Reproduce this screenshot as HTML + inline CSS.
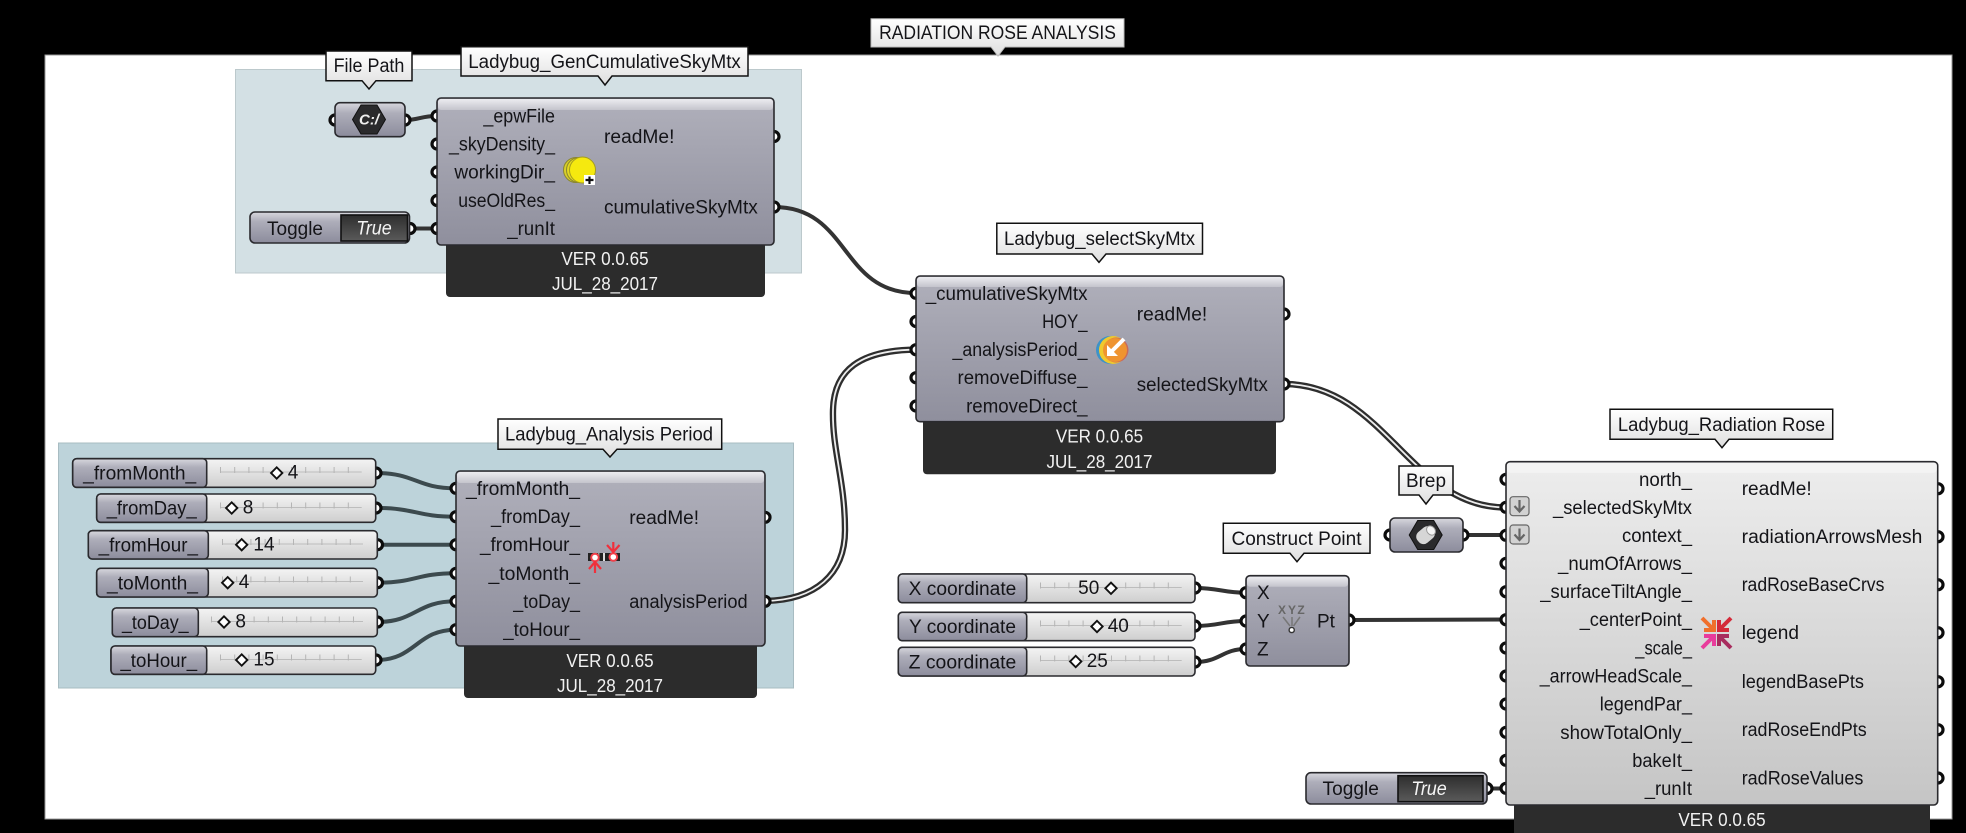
<!DOCTYPE html>
<html><head><meta charset="utf-8"><style>
html,body{margin:0;padding:0;background:#000;width:1966px;height:833px;overflow:hidden}
svg{display:block}
text{font-family:"Liberation Sans",sans-serif;font-size:19px;fill:#141418;dominant-baseline:central;transform:translateY(1px)}
.r{text-anchor:end}.m{text-anchor:middle}
.w{fill:#f2f2f2;text-anchor:middle;font-size:18px}
.i{font-style:italic;fill:#f4f4f4;text-anchor:middle}
.b{stroke:#2a2a2e;stroke-width:1.6}
.f{fill:#2c2c2c}
.wire{fill:none;stroke:#333;stroke-width:4}
.sw{fill:none;stroke:#3c4a4e;stroke-width:4}
.db{fill:none;stroke:#2e2e2e;stroke-width:6.4}
.dw{fill:none;stroke:#eee;stroke-width:1.8}
.lb{fill:url(#lab);stroke:#111;stroke-width:1.5}
.rail{stroke:#bdbdbd;stroke-width:1}
.tick{stroke:#b5b5b5;stroke-width:6;stroke-dasharray:1 13.2}
.dia{fill:#fff;stroke:#111;stroke-width:1.9}
#p{fill:#fff;stroke:#0c0c0c;stroke-width:3.2}
</style></head><body>
<svg width="1966" height="833" viewBox="0 0 1966 833" xmlns="http://www.w3.org/2000/svg">
<defs>
<linearGradient id="g" x1="0" y1="0" x2="0" y2="1"><stop offset="0" stop-color="#b0b0bb"/><stop offset="1" stop-color="#8f8f9d"/></linearGradient>
<linearGradient id="h" x1="0" y1="0" x2="0" y2="1"><stop offset="0" stop-color="#ececf0"/><stop offset="1" stop-color="#c4c4cc"/></linearGradient>
<linearGradient id="n" x1="0" y1="0" x2="0" y2="1"><stop offset="0" stop-color="#d8d8de"/><stop offset=".3" stop-color="#aeaeba"/><stop offset="1" stop-color="#8c8c9c"/></linearGradient>
<linearGradient id="v" x1="0" y1="0" x2="0" y2="1"><stop offset="0" stop-color="#f4f4f4"/><stop offset="1" stop-color="#cecece"/></linearGradient>
<linearGradient id="l" x1="0" y1="0" x2="0" y2="1"><stop offset="0" stop-color="#ededed"/><stop offset="1" stop-color="#c5c5c5"/></linearGradient>
<linearGradient id="lab" x1="0" y1="0" x2="0" y2="1"><stop offset="0" stop-color="#fff"/><stop offset="1" stop-color="#dedede"/></linearGradient>
<linearGradient id="t" x1="0" y1="0" x2="0" y2="1"><stop offset="0" stop-color="#2e2e2e"/><stop offset="1" stop-color="#5a5a5a"/></linearGradient>
<circle id="p" r="5"/>
</defs>
<rect width="1966" height="833" fill="#000"/>
<rect x="45" y="55" width="1907" height="764" fill="#fff" stroke="#999" stroke-width="1"/>
<!-- groups -->
<rect x="235.500" y="69.500" width="566" height="203.500" fill="#d3e0e4" stroke="#bcc9cc"/>
<rect x="58.500" y="443" width="735" height="245" fill="#bdd3da" stroke="#a8bcc2"/>

<!-- wires -->
<g class="wire">
<path d="M405 120 C420 120 420 116 437 116"/>
<path d="M410 228.500 H437"/>
<path d="M774 207 C850 207 840 293 916 293"/>
<path d="M1463 535 H1506"/>
<path d="M1349 620 L1506 619.500"/>
<path d="M1487 788.500 H1506"/>
<path d="M1195 588 C1220 588 1222 592.700 1246 592.700"/>
<path d="M1195 626 C1220 626 1222 621 1246 621"/>
<path d="M1195 662 C1220 662 1222 649 1246 649"/>
</g>
<g class="sw">
<path d="M376 473 C416 473 416 488.300 456 488.300"/>
<path d="M376 508 C416 508 416 516.700 456 516.700"/>
<path d="M377 544.700 H456"/>
<path d="M377 582.700 C416 582.700 416 573.300 456 573.300"/>
<path d="M377 622 C416 622 416 601.300 456 601.300"/>
<path d="M376 660 C416 660 416 629.700 456 629.700"/>
</g>
<path class="db" d="M765 601 C815 600 845 575 845 530 C845 480 832 450 833 410 C834 370 860 350 916 349.700"/>
<path class="dw" d="M765 601 C815 600 845 575 845 530 C845 480 832 450 833 410 C834 370 860 350 916 349.700"/>
<path class="db" d="M1284 384 C1385 384 1410 508 1506 507.500"/>
<path class="dw" d="M1284 384 C1385 384 1410 508 1506 507.500"/>

<!-- ports -->
<g>
<use href="#p" x="335" y="120"/><use href="#p" x="405" y="120"/>
<use href="#p" x="410" y="228.500"/>
<use href="#p" x="437" y="116"/><use href="#p" x="437" y="144"/><use href="#p" x="437" y="172"/><use href="#p" x="437" y="200.500"/><use href="#p" x="437" y="228.500"/>
<use href="#p" x="774" y="136.500"/><use href="#p" x="774" y="207"/>
<use href="#p" x="916" y="293.300"/><use href="#p" x="916" y="321.500"/><use href="#p" x="916" y="349.700"/><use href="#p" x="916" y="377.700"/><use href="#p" x="916" y="406"/>
<use href="#p" x="1284" y="314"/><use href="#p" x="1284" y="384"/>
<use href="#p" x="376" y="473"/><use href="#p" x="376" y="508"/><use href="#p" x="377.500" y="544.700"/><use href="#p" x="377.500" y="582.700"/><use href="#p" x="377.500" y="622"/><use href="#p" x="376" y="660"/>
<use href="#p" x="456" y="488.300"/><use href="#p" x="456" y="516.700"/><use href="#p" x="456" y="544.700"/><use href="#p" x="456" y="573.300"/><use href="#p" x="456" y="601.300"/><use href="#p" x="456" y="629.700"/>
<use href="#p" x="765" y="517.300"/><use href="#p" x="765" y="601.300"/>
<use href="#p" x="1195" y="588"/><use href="#p" x="1195" y="626"/><use href="#p" x="1195" y="662"/>
<use href="#p" x="1246" y="592.700"/><use href="#p" x="1246" y="621"/><use href="#p" x="1246" y="649"/><use href="#p" x="1349" y="620"/>
<use href="#p" x="1390" y="535"/><use href="#p" x="1463" y="535"/>
<use href="#p" x="1487" y="788.500"/>
<use href="#p" x="1506" y="479.300"/><use href="#p" x="1506" y="507.300"/><use href="#p" x="1506" y="535.300"/><use href="#p" x="1506" y="563.300"/><use href="#p" x="1506" y="591.700"/><use href="#p" x="1506" y="619.700"/><use href="#p" x="1506" y="648"/><use href="#p" x="1506" y="676"/><use href="#p" x="1506" y="704"/><use href="#p" x="1506" y="732.300"/><use href="#p" x="1506" y="760.300"/><use href="#p" x="1506" y="788.300"/>
<use href="#p" x="1938" y="488.700"/><use href="#p" x="1938" y="536.700"/><use href="#p" x="1938" y="584.700"/><use href="#p" x="1938" y="632.700"/><use href="#p" x="1938" y="681.700"/><use href="#p" x="1938" y="729.700"/><use href="#p" x="1938" y="778"/>
</g>

<!-- Comp 1 -->
<rect class="f" x="446" y="240" width="319" height="57" rx="4"/>
<rect class="b" x="437" y="98" width="337" height="147" rx="4" fill="url(#g)"/>
<rect x="438" y="99" width="335" height="11" rx="3" fill="url(#h)"/>
<text class="r" x="555" y="116" textLength="71.6" lengthAdjust="spacingAndGlyphs">_epwFile</text>
<text class="r" x="555" y="144" textLength="106" lengthAdjust="spacingAndGlyphs">_skyDensity_</text>
<text class="r" x="555" y="172" textLength="100.6" lengthAdjust="spacingAndGlyphs">workingDir_</text>
<text class="r" x="555" y="200.500" textLength="96.8" lengthAdjust="spacingAndGlyphs">useOldRes_</text>
<text class="r" x="555" y="228.500" textLength="47.8" lengthAdjust="spacingAndGlyphs">_runIt</text>
<text x="604" y="136.500" textLength="70.4" lengthAdjust="spacingAndGlyphs">readMe!</text>
<text x="604" y="207" textLength="153.8" lengthAdjust="spacingAndGlyphs">cumulativeSkyMtx</text>
<text class="w" x="605" y="258" textLength="87.3" lengthAdjust="spacingAndGlyphs">VER 0.0.65</text>
<text class="w" x="605" y="283" textLength="106" lengthAdjust="spacingAndGlyphs">JUL_28_2017</text>
<circle cx="576" cy="170" r="12.500" fill="#d8cf2a" stroke="#8a8630"/>
<circle cx="579" cy="170" r="12.500" fill="#e2d820" stroke="#8a8630"/>
<circle cx="582.500" cy="170" r="13" fill="#f5e90f" stroke="#a39c20"/>
<rect x="584" y="175" width="11" height="10" fill="#fff"/>
<path d="M585.500 180H593.500M589.500 176.500V184" stroke="#111" stroke-width="2.200"/>

<!-- File path param -->
<rect class="b" x="335" y="102.700" width="70" height="34" rx="5" fill="url(#n)"/>
<polygon points="352.500,119.500 361,105 377,105 385.500,119.500 377,134 361,134" fill="#2a2a2c" stroke="#111"/>
<text class="m" x="369" y="119" style="fill:#eee;font-weight:bold;font-style:italic;font-size:15px">C:/</text>

<!-- Toggle 1 -->
<rect class="b" x="250" y="212" width="159.500" height="31" rx="5" fill="url(#n)"/>
<rect x="341" y="215" width="66.500" height="26" fill="url(#t)" stroke="#111" stroke-width="1.600"/>
<text class="m" x="295" y="228.500" textLength="56" lengthAdjust="spacingAndGlyphs">Toggle</text>
<text class="i" x="374" y="228" textLength="35.6" lengthAdjust="spacingAndGlyphs">True</text>

<!-- Comp 3 analysis period -->
<rect class="f" x="464" y="640" width="293" height="58" rx="4"/>
<rect class="b" x="456" y="471" width="309" height="175" rx="4" fill="url(#g)"/>
<rect x="457" y="472" width="307" height="11" rx="3" fill="url(#h)"/>
<text class="r" x="580" y="488.300" textLength="114" lengthAdjust="spacingAndGlyphs">_fromMonth_</text>
<text class="r" x="580" y="516.700" textLength="89" lengthAdjust="spacingAndGlyphs">_fromDay_</text>
<text class="r" x="580" y="544.700" textLength="100" lengthAdjust="spacingAndGlyphs">_fromHour_</text>
<text class="r" x="580" y="573.300" textLength="91.500" lengthAdjust="spacingAndGlyphs">_toMonth_</text>
<text class="r" x="580" y="601.300" textLength="66.700" lengthAdjust="spacingAndGlyphs">_toDay_</text>
<text class="r" x="580" y="629.700" textLength="76.700" lengthAdjust="spacingAndGlyphs">_toHour_</text>
<text x="629.300" y="517.300" textLength="69.700" lengthAdjust="spacingAndGlyphs">readMe!</text>
<text x="629.300" y="601.300" textLength="118.300" lengthAdjust="spacingAndGlyphs">analysisPeriod</text>
<text class="w" x="610" y="660" textLength="87.3" lengthAdjust="spacingAndGlyphs">VER 0.0.65</text>
<text class="w" x="610" y="685" textLength="106" lengthAdjust="spacingAndGlyphs">JUL_28_2017</text>
<rect x="588" y="553" width="32" height="8" fill="#222"/>
<rect x="603" y="553" width="2" height="8" fill="#ddd"/><rect x="598" y="553" width="1.500" height="8" fill="#999"/>
<circle cx="595" cy="557.500" r="3.800" fill="#fff" stroke="#f0404a" stroke-width="2"/>
<circle cx="613.300" cy="557" r="3.800" fill="#fff" stroke="#f0404a" stroke-width="2"/>
<path d="M595 573V563M589 569L595 562L601 569M613.300 542V551M607 545L613.300 552L619.500 545" fill="none" stroke="#f0303c" stroke-width="2.200"/>

<!-- sliders group 2 -->
<g>
<rect class="b" x="72.700" y="458.700" width="303" height="28.600" rx="4" fill="url(#v)"/>
<rect class="b" x="72.700" y="458.700" width="134" height="28.600" rx="4" fill="url(#n)"/>
<path class="rail" d="M220 472H361.700"/><path class="tick" d="M220 470H362"/>
<rect class="dia" x="272.700" y="469" width="8" height="8" transform="rotate(45 276.700 473)"/>
<text class="m" x="293" y="472">4</text>
<text class="m" x="139.700" y="473" textLength="113" lengthAdjust="spacingAndGlyphs">_fromMonth_</text>

<rect class="b" x="96.700" y="494" width="279" height="28.300" rx="4" fill="url(#v)"/>
<rect class="b" x="96.700" y="494" width="110" height="28.300" rx="4" fill="url(#n)"/>
<path class="rail" d="M220 507.500H361.700"/><path class="tick" d="M220 505.500H362"/>
<rect class="dia" x="227.700" y="504" width="8" height="8" transform="rotate(45 231.700 508)"/>
<text class="m" x="248" y="507">8</text>
<text class="m" x="151.700" y="508" textLength="90" lengthAdjust="spacingAndGlyphs">_fromDay_</text>

<rect class="b" x="88.300" y="530.700" width="289" height="28.300" rx="4" fill="url(#v)"/>
<rect class="b" x="88.300" y="530.700" width="120" height="28.300" rx="4" fill="url(#n)"/>
<path class="rail" d="M222 544H363"/><path class="tick" d="M222 542H363"/>
<rect class="dia" x="237.700" y="540.700" width="8" height="8" transform="rotate(45 241.700 544.700)"/>
<text class="m" x="264" y="544">14</text>
<text class="m" x="148.300" y="545" textLength="99.300" lengthAdjust="spacingAndGlyphs">_fromHour_</text>

<rect class="b" x="96.700" y="568.300" width="280.600" height="28.700" rx="4" fill="url(#v)"/>
<rect class="b" x="96.700" y="568.300" width="111.600" height="28.700" rx="4" fill="url(#n)"/>
<path class="rail" d="M222 581.500H363"/><path class="tick" d="M222 579.500H363"/>
<rect class="dia" x="223.700" y="578.700" width="8" height="8" transform="rotate(45 227.700 582.700)"/>
<text class="m" x="244" y="581.500">4</text>
<text class="m" x="152.500" y="583" textLength="91" lengthAdjust="spacingAndGlyphs">_toMonth_</text>

<rect class="b" x="112.300" y="608" width="265" height="28.700" rx="4" fill="url(#v)"/>
<rect class="b" x="112.300" y="608" width="86" height="28.700" rx="4" fill="url(#n)"/>
<path class="rail" d="M211 621.500H363"/><path class="tick" d="M211 619.500H363"/>
<rect class="dia" x="220" y="618" width="8" height="8" transform="rotate(45 224 622)"/>
<text class="m" x="240.700" y="621">8</text>
<text class="m" x="155.300" y="622.500" textLength="66.700" lengthAdjust="spacingAndGlyphs">_toDay_</text>

<rect class="b" x="111" y="646" width="264.700" height="28.300" rx="4" fill="url(#v)"/>
<rect class="b" x="111" y="646" width="95.700" height="28.300" rx="4" fill="url(#n)"/>
<path class="rail" d="M220 659.500H361.700"/><path class="tick" d="M220 657.500H362"/>
<rect class="dia" x="237.700" y="656" width="8" height="8" transform="rotate(45 241.700 660)"/>
<text class="m" x="264" y="659">15</text>
<text class="m" x="158.800" y="660.500" textLength="76.700" lengthAdjust="spacingAndGlyphs">_toHour_</text>
</g>

<!-- Comp 2 -->
<rect class="f" x="923" y="416" width="353" height="58.300" rx="4"/>
<rect class="b" x="916" y="276" width="368" height="145.700" rx="4" fill="url(#g)"/>
<rect x="917" y="277" width="366" height="10" rx="3" fill="url(#h)"/>
<text class="r" x="1087.500" y="293.300" textLength="161.800" lengthAdjust="spacingAndGlyphs">_cumulativeSkyMtx</text>
<text class="r" x="1087.500" y="321.700" textLength="45.400" lengthAdjust="spacingAndGlyphs">HOY_</text>
<text class="r" x="1087.500" y="349.700" textLength="135" lengthAdjust="spacingAndGlyphs">_analysisPeriod_</text>
<text class="r" x="1087.500" y="377.700" textLength="130" lengthAdjust="spacingAndGlyphs">removeDiffuse_</text>
<text class="r" x="1087.500" y="406" textLength="121.400" lengthAdjust="spacingAndGlyphs">removeDirect_</text>
<text x="1136.800" y="314" textLength="70.400" lengthAdjust="spacingAndGlyphs">readMe!</text>
<text x="1136.800" y="384.300" textLength="131" lengthAdjust="spacingAndGlyphs">selectedSkyMtx</text>
<text class="w" x="1099.500" y="435.700" textLength="87.3" lengthAdjust="spacingAndGlyphs">VER 0.0.65</text>
<text class="w" x="1099.500" y="461" textLength="106" lengthAdjust="spacingAndGlyphs">JUL_28_2017</text>
<circle cx="1110" cy="350" r="14" fill="#3d93c8"/>
<circle cx="1113" cy="350" r="14" fill="#efc92e"/>
<circle cx="1116" cy="350" r="12.500" fill="#c86a5c"/>
<circle cx="1115" cy="350" r="12" fill="#ef9430"/>
<path d="M1124 339L1112 351" stroke="#fff" stroke-width="4" fill="none"/>
<path d="M1107 356V345L1118 356Z" fill="#fff"/>

<!-- Construct point sliders -->
<g>
<rect class="b" x="898.300" y="574" width="296.700" height="28.700" rx="4" fill="url(#v)"/>
<rect class="b" x="898.300" y="574" width="128.400" height="28.700" rx="4" fill="url(#n)"/>
<path class="rail" d="M1040 587.500H1181.700"/><path class="tick" d="M1040 585.500H1182"/>
<rect class="dia" x="1107" y="584.300" width="8" height="8" transform="rotate(45 1111 588.300)"/>
<text class="m" x="1088.700" y="587.500">50</text>
<text class="m" x="962.500" y="588.500" textLength="107.700" lengthAdjust="spacingAndGlyphs">X coordinate</text>

<rect class="b" x="898.300" y="612.300" width="296.700" height="28.400" rx="4" fill="url(#v)"/>
<rect class="b" x="898.300" y="612.300" width="128.400" height="28.400" rx="4" fill="url(#n)"/>
<path class="rail" d="M1040 625.500H1181.700"/><path class="tick" d="M1040 623.500H1182"/>
<rect class="dia" x="1093" y="622.500" width="8" height="8" transform="rotate(45 1097 626.500)"/>
<text class="m" x="1118.300" y="625.500">40</text>
<text class="m" x="962.500" y="626.500" textLength="107" lengthAdjust="spacingAndGlyphs">Y coordinate</text>

<rect class="b" x="898.300" y="647.300" width="296.700" height="28.700" rx="4" fill="url(#v)"/>
<rect class="b" x="898.300" y="647.300" width="128.400" height="28.700" rx="4" fill="url(#n)"/>
<path class="rail" d="M1040 660.500H1181.700"/><path class="tick" d="M1040 658.500H1182"/>
<rect class="dia" x="1071.700" y="657.500" width="8" height="8" transform="rotate(45 1075.700 661.500)"/>
<text class="m" x="1097.300" y="660.500">25</text>
<text class="m" x="962.500" y="662" textLength="107.700" lengthAdjust="spacingAndGlyphs">Z coordinate</text>
</g>

<!-- Construct Point -->
<rect class="b" x="1246" y="575.700" width="103" height="90.300" rx="4" fill="url(#g)"/>
<rect x="1247" y="576.700" width="101" height="10" rx="3" fill="url(#h)"/>
<text x="1257" y="592.700">X</text>
<text x="1257" y="621">Y</text>
<text x="1257" y="649">Z</text>
<text x="1317" y="621">Pt</text>
<text class="m" x="1282" y="609" style="font-size:12px;font-weight:bold;fill:#666">X</text>
<text class="m" x="1292" y="609" style="font-size:12px;font-weight:bold;fill:#666">Y</text>
<text class="m" x="1301" y="609" style="font-size:12px;font-weight:bold;fill:#666">Z</text>
<path d="M1283 617L1290 626M1292 617V626M1300 617L1293.500 626" stroke="#777" stroke-width="1.500" fill="none"/>
<circle cx="1291.700" cy="630" r="2.600" fill="#fff" stroke="#333" stroke-width="1.400"/>

<!-- Brep -->
<rect class="b" x="1390" y="518" width="73" height="34" rx="5" fill="url(#n)"/>
<polygon points="1409.200,535 1417.700,520.500 1433.700,520.500 1442.200,535 1433.700,549.500 1417.700,549.500" fill="#2a2a2c" stroke="#111"/>
<rect x="1416" y="528" width="19" height="14" rx="6" fill="#d6d6d6" transform="rotate(-40 1425.700 535)"/>
<ellipse cx="1431" cy="530.500" rx="4" ry="5" fill="#f4f4f4" stroke="#999" transform="rotate(-40 1431 530.500)"/>

<!-- Toggle 2 -->
<rect class="b" x="1306" y="772.700" width="181" height="31.300" rx="5" fill="url(#n)"/>
<rect x="1398" y="775.700" width="85" height="26" fill="url(#t)" stroke="#111" stroke-width="1.600"/>
<text class="m" x="1350.700" y="788.700" textLength="56.300" lengthAdjust="spacingAndGlyphs">Toggle</text>
<text class="i" x="1429" y="788.500" textLength="35.600" lengthAdjust="spacingAndGlyphs">True</text>

<!-- Radiation rose -->
<rect class="f" x="1514" y="798" width="416" height="40"/>
<rect class="b" x="1506" y="461.700" width="431.700" height="343.300" rx="4" fill="url(#l)"/>
<rect x="1507" y="462.700" width="429.700" height="10" rx="3" fill="#f3f3f3"/>
<rect x="1510" y="496.700" width="19" height="19" rx="3" fill="#d2d2d2" stroke="#666" stroke-width="1.200"/>
<rect x="1510" y="525" width="19" height="19" rx="3" fill="#d2d2d2" stroke="#666" stroke-width="1.200"/>
<path d="M1519.500 500V511M1514.500 506L1519.500 511.500L1524.500 506M1519.500 528.500V539.500M1514.500 534.500L1519.500 540L1524.500 534.500" stroke="#666" stroke-width="2.200" fill="none"/>
<text class="r" x="1692" y="479.300" textLength="53" lengthAdjust="spacingAndGlyphs">north_</text>
<text class="r" x="1692" y="507.300" textLength="139" lengthAdjust="spacingAndGlyphs">_selectedSkyMtx</text>
<text class="r" x="1692" y="535.300" textLength="70" lengthAdjust="spacingAndGlyphs">context_</text>
<text class="r" x="1692" y="563.300" textLength="134" lengthAdjust="spacingAndGlyphs">_numOfArrows_</text>
<text class="r" x="1692" y="591.700" textLength="151.700" lengthAdjust="spacingAndGlyphs">_surfaceTiltAngle_</text>
<text class="r" x="1692" y="619.700" textLength="112.300" lengthAdjust="spacingAndGlyphs">_centerPoint_</text>
<text class="r" x="1692" y="648" textLength="56.700" lengthAdjust="spacingAndGlyphs">_scale_</text>
<text class="r" x="1692" y="676" textLength="152.300" lengthAdjust="spacingAndGlyphs">_arrowHeadScale_</text>
<text class="r" x="1692" y="704" textLength="92.300" lengthAdjust="spacingAndGlyphs">legendPar_</text>
<text class="r" x="1692" y="732.300" textLength="131.700" lengthAdjust="spacingAndGlyphs">showTotalOnly_</text>
<text class="r" x="1692" y="760.300" textLength="59.700" lengthAdjust="spacingAndGlyphs">bakeIt_</text>
<text class="r" x="1692" y="788.300" textLength="47.300" lengthAdjust="spacingAndGlyphs">_runIt</text>
<text x="1741.700" y="488.700" textLength="70" lengthAdjust="spacingAndGlyphs">readMe!</text>
<text x="1741.700" y="536.700" textLength="180.700" lengthAdjust="spacingAndGlyphs">radiationArrowsMesh</text>
<text x="1741.700" y="584.700" textLength="142.700" lengthAdjust="spacingAndGlyphs">radRoseBaseCrvs</text>
<text x="1741.700" y="632.700" textLength="57.300" lengthAdjust="spacingAndGlyphs">legend</text>
<text x="1741.700" y="681.700" textLength="122.300" lengthAdjust="spacingAndGlyphs">legendBasePts</text>
<text x="1741.700" y="729.700" textLength="125" lengthAdjust="spacingAndGlyphs">radRoseEndPts</text>
<text x="1741.700" y="778" textLength="121.700" lengthAdjust="spacingAndGlyphs">radRoseValues</text>
<text class="w" x="1722" y="819" textLength="87.3" lengthAdjust="spacingAndGlyphs">VER 0.0.65</text>
<g fill="none" stroke-width="4">
<path d="M1702 618L1714 630M1714 620V630H1704" stroke="#f0702c"/>
<path d="M1731 618L1719 630M1719 620V630H1729" stroke="#d42a3a"/>
<path d="M1702 648L1714 636M1704 636H1714V646" stroke="#e83c9c"/>
<path d="M1731 648L1719 636M1729 636H1719V646" stroke="#a82c5e"/>
</g>

<!-- labels -->
<path class="lb" d="M326 51H412V80.700H376L369 89L362 80.700H326Z"/>
<text class="m" x="369" y="65.500" textLength="70.800" lengthAdjust="spacingAndGlyphs">File Path</text>
<path class="lb" d="M461 46.700H748V76H612L605 85L598 76H461Z"/>
<text class="m" x="604.500" y="61.500" textLength="272.500" lengthAdjust="spacingAndGlyphs">Ladybug_GenCumulativeSkyMtx</text>
<path class="lb" d="M498 419H721.700V449.300H617L610 457L603 449.300H498Z"/>
<text class="m" x="609" y="434" textLength="208" lengthAdjust="spacingAndGlyphs">Ladybug_Analysis Period</text>
<path class="lb" d="M996.800 223.300H1202.500V254H1106L1099 262.300L1092 254H996.800Z"/>
<text class="m" x="1099.500" y="238.500" textLength="191" lengthAdjust="spacingAndGlyphs">Ladybug_selectSkyMtx</text>
<path d="M871 18.700H1124V47H1005L998 56L991 47H871Z" fill="url(#lab)" stroke="#bbb" stroke-width="1"/>
<text class="m" x="997.500" y="32.700" textLength="236.800" lengthAdjust="spacingAndGlyphs">RADIATION ROSE ANALYSIS</text>
<path class="lb" d="M1610 409.300H1832.700V439.300H1729L1722 447.700L1715 439.300H1610Z"/>
<text class="m" x="1721.500" y="424.300" textLength="207.300" lengthAdjust="spacingAndGlyphs">Ladybug_Radiation Rose</text>
<path class="lb" d="M1223.300 523.300H1370V553.300H1304L1297 561.700L1290 553.300H1223.300Z"/>
<text class="m" x="1296.500" y="538.300" textLength="130" lengthAdjust="spacingAndGlyphs">Construct Point</text>
<path class="lb" d="M1399 466H1453V495H1433L1426 504L1419 495H1399Z"/>
<text class="m" x="1426" y="480.500" textLength="40" lengthAdjust="spacingAndGlyphs">Brep</text>
</svg>
</body></html>
